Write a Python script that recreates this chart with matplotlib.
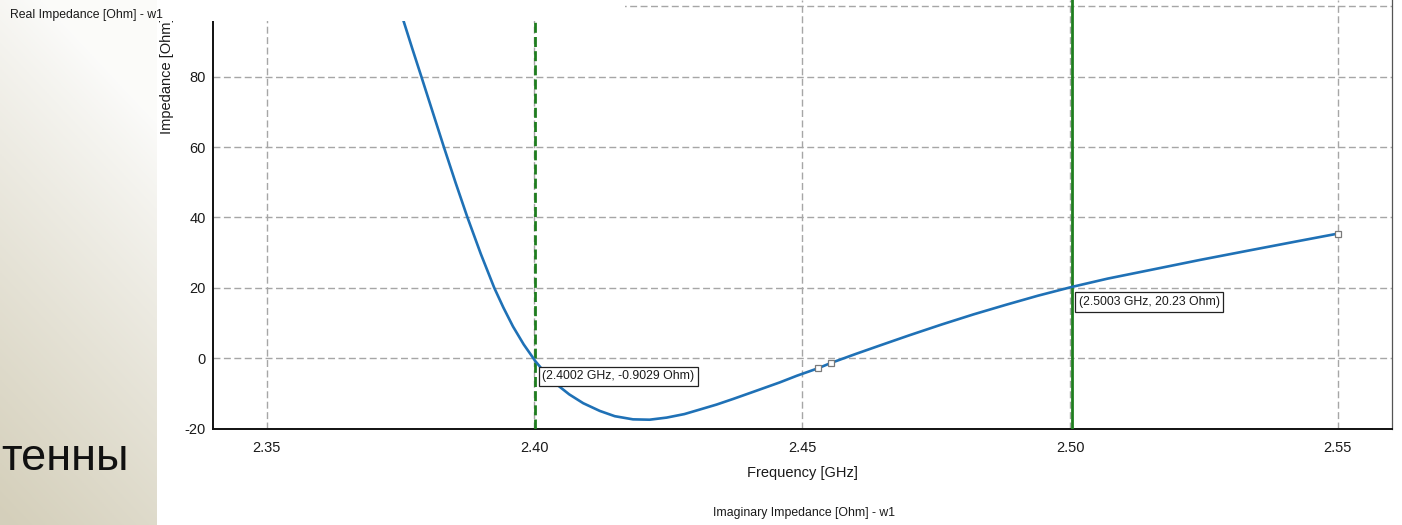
import numpy as np
import matplotlib
matplotlib.use("Agg")
import matplotlib.pyplot as plt
from matplotlib.patches import Rectangle

plt.rcParams['font.family'] = ['Liberation Sans', 'DejaVu Sans']

# Imaginary impedance of antenna w1 versus frequency
freq_ghz = [2.3750, 2.3756, 2.3772, 2.3789, 2.3810, 2.3831, 2.3853, 2.3875, 2.3900,
            2.3925, 2.3942, 2.3960, 2.3980, 2.4002, 2.4020, 2.4041, 2.4065, 2.4091,
            2.4122, 2.4150, 2.4184, 2.4215, 2.4247, 2.4280, 2.4309, 2.4340, 2.4371,
            2.4410, 2.4458, 2.4490, 2.4530, 2.4553, 2.4600, 2.4645, 2.4700, 2.4760,
            2.4820, 2.4880, 2.4940, 2.5003, 2.5070, 2.5148, 2.5242, 2.5334, 2.5420,
            2.5500]
imag_ohm = [98.5, 95.7, 88.0, 80.0, 70.0, 60.0, 49.8, 40.0, 29.6,
            20.0, 14.4, 9.0, 3.9, -0.9029, -4.2, -7.4, -10.3, -12.8,
            -15.0, -16.5, -17.4, -17.5, -16.9, -15.9, -14.6, -13.2, -11.6,
            -9.5, -6.9, -5.0, -2.85, -1.4, 1.2, 3.6, 6.5, 9.55,
            12.45, 15.15, 17.75, 20.23, 22.6, 25.0, 27.9, 30.6, 33.1,
            35.4]

# indices of the square point markers and of the two readout markers
square_idx = [30, 31, 45]
readout_idx = [13, 39]
readout_styles = ['--', '-']

x_ticks = [2.35, 2.40, 2.45, 2.50, 2.55]
y_ticks = [-20, 0, 20, 40, 60, 80, 100]

W, H = 1402, 525
fig = plt.figure(figsize=(W / 100, H / 100), dpi=100)
fig.patch.set_facecolor('white')

# slide background strip on the left
strip_w = 157
bg = fig.add_axes([0, 0, strip_w / W, 1])
yy, xx = np.mgrid[0:1:300j, 0:1:80j]
t = np.clip(0.95 * yy + 0.30 * (1 - xx) - 0.22, 0, 1) ** 0.9
c0 = np.array([0.985, 0.985, 0.98])
c1 = np.array([0.835, 0.815, 0.735])
img = c0[None, None, :] * (1 - t[..., None]) + c1[None, None, :] * t[..., None]
bg.imshow(img, aspect='auto', extent=[0, 1, 0, 1], origin='upper')
bg.set_axis_off()
fig.text(1 / W, 1 - 470 / H, 'тенны', ha='left', va='baseline',
         fontsize=32.5, color='#111111')

# main plot
ax_l, ax_r, ax_b = 213, 1391.5, 428.5
ax = fig.add_axes([ax_l / W, 1 - ax_b / H, (ax_r - ax_l) / W, ax_b / H])
ax.set_xlim(2.34, 2.56)
ax.set_ylim(-20, 101.8)
ax.set_xticks(x_ticks)
ax.set_xticklabels([f'{v:.2f}' for v in x_ticks])
ax.set_yticks(y_ticks)
ax.set_yticklabels([str(v) for v in y_ticks])
ax.tick_params(length=0, labelsize=10.5, colors='#1a1a1a')
ax.tick_params(axis='x', pad=9)
ax.tick_params(axis='y', pad=5)
ax.grid(True, color='#a6a6a6', linestyle=(0, (5, 2.5)), linewidth=1.0)
ax.set_axisbelow(True)
for side in ['left', 'bottom']:
    ax.spines[side].set_color('#111111')
    ax.spines[side].set_linewidth(1.4)
ax.spines['right'].set_color('#555555')
ax.spines['right'].set_linewidth(0.9)
ax.spines['top'].set_visible(False)

ax.set_xlabel('Frequency [GHz]', fontsize=10.5, color='#1a1a1a', labelpad=8)

# readout marker lines
for i, ls in zip(readout_idx, readout_styles):
    dash = (0, (3.6, 1.5)) if ls == '--' else '-'
    ax.axvline(freq_ghz[i], color='#1f7d1f', linestyle=dash, linewidth=2.0, zorder=3)

ax.plot(freq_ghz, imag_ohm, color='#1f71b6', linewidth=1.9, zorder=4,
        solid_capstyle='round', solid_joinstyle='round')
ax.plot([freq_ghz[i] for i in square_idx], [imag_ohm[i] for i in square_idx],
        linestyle='none', marker='s', markersize=4.5, markerfacecolor='white',
        markeredgecolor='#7a7a7a', markeredgewidth=0.9, zorder=5)

for i in readout_idx:
    f, v = freq_ghz[i], imag_ohm[i]
    ax.annotate(f'({f:.4f} GHz, {v:.4g} Ohm)', xy=(f, v), xytext=(7, -9),
                textcoords='offset pixels', ha='left', va='top', fontsize=8.8,
                color='#1a1a1a', zorder=6,
                bbox=dict(boxstyle='square,pad=0.3', fc='white', ec='#222222', lw=0.9))

fig.text(167 / W, 1 - 76 / H, 'Impedance [Ohm]', rotation=90, ha='center',
         va='center', fontsize=10.5, color='#1a1a1a', zorder=5)

# strip covering the upper band of the plot
fig.patches.append(Rectangle((strip_w / W, 1 - 21 / H), (625 - strip_w) / W, 21 / H,
                             transform=fig.transFigure, facecolor='white',
                             edgecolor='none', zorder=10))

fig.text(10 / W, 1 - 15 / H, 'Real Impedance [Ohm] - w1', ha='left', va='center',
         fontsize=8.8, color='#1a1a1a', zorder=11)
fig.text(804 / W, 1 - 513 / H, 'Imaginary Impedance [Ohm] - w1', ha='center',
         va='center', fontsize=8.8, color='#1a1a1a', zorder=11)

fig.savefig('out.png', dpi=100)
